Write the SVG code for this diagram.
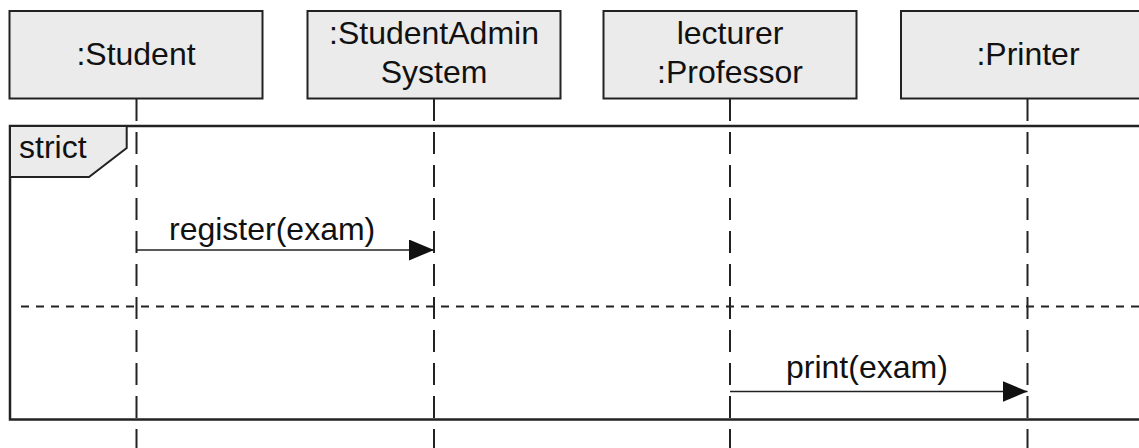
<svg xmlns="http://www.w3.org/2000/svg" width="1139" height="448" viewBox="0 0 1139 448">
<style>
.box{fill:#ebebeb;stroke:#222;stroke-width:2}
.lbl{font-family:"Liberation Sans",Arial,sans-serif;font-size:32px;fill:#111;text-anchor:middle}
.txt{font-family:"Liberation Sans",Arial,sans-serif;font-size:32px;fill:#111}
.life{stroke:#222;stroke-width:2;stroke-dasharray:22 11;fill:none}
.msg{stroke:#222;stroke-width:1.6;fill:none}
.frame{fill:none;stroke:#222;stroke-width:2.5}
.sep{stroke:#222;stroke-width:2;stroke-dasharray:8 7;fill:none}
</style>
<defs>
<marker id="arr" markerWidth="26" markerHeight="22" refX="25" refY="10.5" orient="auto" markerUnits="userSpaceOnUse">
<polygon points="0,0 25,10.5 0,21" fill="#111"/>
</marker>
</defs>
<rect width="1139" height="448" fill="#fff"/>
<g id="lifelines">
<line class="life" x1="136.5" y1="99" x2="136.5" y2="448"/>
<line class="life" x1="434" y1="99" x2="434" y2="448"/>
<line class="life" x1="730" y1="99" x2="730" y2="448"/>
<line class="life" x1="1027.5" y1="99" x2="1027.5" y2="448"/>
</g>
<g id="node-student">
<rect class="box" x="9.5" y="11" width="253" height="87.5"/>
<text class="lbl" x="136" y="65">:Student</text>
</g>
<g id="node-sas">
<rect class="box" x="307.5" y="11" width="253" height="87.5"/>
<text class="lbl" x="434" y="43.5">:StudentAdmin</text>
<text class="lbl" x="434" y="82.5">System</text>
</g>
<g id="node-professor">
<rect class="box" x="603.5" y="11" width="253" height="87.5"/>
<text class="lbl" x="730" y="43.5">lecturer</text>
<text class="lbl" x="730" y="82.5">:Professor</text>
</g>
<g id="node-printer">
<rect class="box" x="901" y="11" width="260" height="87.5"/>
<text class="lbl" x="1028" y="65">:Printer</text>
</g>
<g id="fragment-strict">
<rect class="frame" x="10" y="126" width="1140" height="293.5"/>
<polygon points="10,126 126.7,126 126.7,148 89,177 10,177" fill="#ebebeb" stroke="#222" stroke-width="2"/>
<text class="txt" x="19" y="158">strict</text>
<line class="sep" x1="21" y1="306.5" x2="1139" y2="306.5"/>
</g>
<g id="connectors">
<line class="msg" x1="136.5" y1="250" x2="434" y2="250" marker-end="url(#arr)"/>
<text class="txt" x="169" y="240">register(exam)</text>
<line class="msg" x1="730" y1="391.5" x2="1027.5" y2="391.5" marker-end="url(#arr)"/>
<text class="txt" x="786" y="378">print(exam)</text>
</g>
</svg>
